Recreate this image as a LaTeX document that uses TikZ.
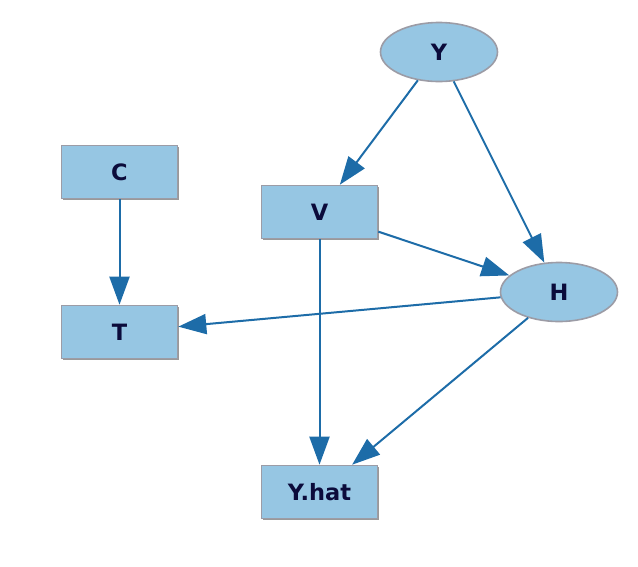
\documentclass[tikz,border=0pt]{standalone}
\usepackage{fontspec}
\setmainfont{DejaVu Sans}
\usetikzlibrary{arrows.meta,shapes.geometric,shadows}

\definecolor{nodefill}{HTML}{96C6E3}
\definecolor{nodeline}{HTML}{9C9CA6}
\definecolor{nodetext}{HTML}{0B0B3B}
\definecolor{linkblue}{HTML}{1D6CA8}

\begin{document}
\begin{tikzpicture}[x=1pt, y=-1pt,
    box/.style={rectangle, draw=nodeline, fill=nodefill, line width=1.6pt,
      minimum width=116pt, minimum height=53pt, text=nodetext,
      font=\bfseries\fontsize{22.5}{27}\selectfont,
      drop shadow={shadow xshift=1.5pt, shadow yshift=-1.5pt, fill=gray!80, opacity=1}},
    oval/.style={ellipse, draw=nodeline, fill=nodefill, line width=1.6pt,
      minimum width=117pt, minimum height=59pt, inner sep=0pt, text=nodetext,
      font=\bfseries\fontsize{22.5}{27}\selectfont},
    link/.style={draw=linkblue, line width=2pt, -{Triangle[length=28pt, width=20pt]}}]
        \useasboundingbox (0, 0) rectangle (638, 566);

        % nodes
        \node[oval] (Y) at (439, 52) {Y};
        \node[box] (C) at (119.5, 172) {C};
        \node[box] (V) at (319.5, 212) {V};
        \node[box] (T) at (119.5, 332) {T};
        \node[oval] (H) at (559, 292) {H};
        \node[box] (Yhat) at (319.5, 492) {Y.hat};

        % links
        \draw[link] (Y) -- (V);
        \draw[link] (Y) -- (H);
        \draw[link] (C) -- (T);
        \draw[link] (V) -- (H);
        \draw[link] (H) -- (T);
        \draw[link] (V) -- (Yhat);
        \draw[link] (H) -- (Yhat);
      \end{tikzpicture}
\end{document}
